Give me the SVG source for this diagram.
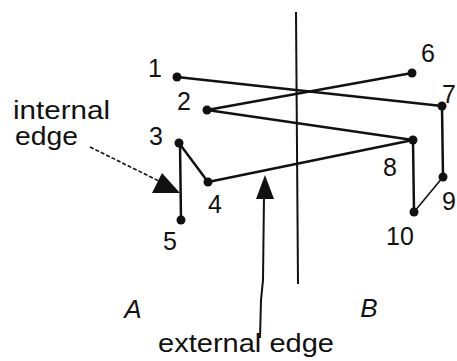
<svg xmlns="http://www.w3.org/2000/svg" width="457" height="361" viewBox="0 0 457 361">
<style>
.edge{stroke:#111;stroke-width:2.5;fill:none;stroke-linecap:round}
.thin{stroke:#111;stroke-width:1.6;fill:none}
.dot{fill:#111}
.num{font-family:"Liberation Sans",Arial,sans-serif;font-size:25px;fill:#111;text-anchor:middle}
.lbl{font-family:"Liberation Sans",Arial,sans-serif;font-size:25px;fill:#111}
.part{font-family:"Liberation Sans",Arial,sans-serif;font-size:26px;font-style:italic;fill:#111;text-anchor:middle}
</style>
<rect width="457" height="361" fill="#fff"/>
<line x1="296" y1="12" x2="298" y2="284" stroke="#111" stroke-width="2"/>
<g id="connectors">
<line class="edge" x1="177" y1="77" x2="442" y2="106"/>
<line class="edge" x1="412" y1="73" x2="207" y2="110"/>
<line class="edge" x1="207" y1="110" x2="413" y2="140"/>
<line class="edge" x1="208" y1="182" x2="413" y2="140"/>
<line class="edge" x1="179" y1="143" x2="208" y2="182"/>
<line class="edge" x1="180" y1="143" x2="181" y2="220"/>
<line class="edge" x1="442" y1="106" x2="443" y2="177"/>
<line class="edge" x1="413" y1="140" x2="414" y2="212"/>
<line class="thin" x1="443" y1="177" x2="414" y2="212"/>
</g>
<g id="node1"><circle class="dot" cx="177" cy="77" r="4.5"/><text class="num" x="155" y="77">1</text></g>
<g id="node2"><circle class="dot" cx="207" cy="110" r="4.5"/><text class="num" x="184" y="110">2</text></g>
<g id="node3"><circle class="dot" cx="179" cy="143" r="4.5"/><text class="num" x="156" y="145">3</text></g>
<g id="node4"><circle class="dot" cx="208" cy="182" r="4.5"/><text class="num" x="215" y="213">4</text></g>
<g id="node5"><circle class="dot" cx="181" cy="220" r="4.5"/><text class="num" x="170" y="250">5</text></g>
<g id="node6"><circle class="dot" cx="412" cy="73" r="4.5"/><text class="num" x="428" y="62">6</text></g>
<g id="node7"><circle class="dot" cx="442" cy="106" r="4.5"/><text class="num" x="449" y="103">7</text></g>
<g id="node8"><circle class="dot" cx="413" cy="140" r="4.5"/><text class="num" x="390" y="176">8</text></g>
<g id="node9"><circle class="dot" cx="443" cy="177" r="4.5"/><text class="num" x="449" y="210">9</text></g>
<g id="node10"><circle class="dot" cx="414" cy="212" r="4.5"/><text class="num" x="400" y="245">10</text></g>
<g id="internal-label">
<text class="lbl" x="13" y="119" textLength="97" lengthAdjust="spacingAndGlyphs">internal</text>
<text class="lbl" x="15" y="145" textLength="63" lengthAdjust="spacingAndGlyphs">edge</text>
<line x1="90" y1="147" x2="163" y2="183" stroke="#111" stroke-width="1.6" stroke-dasharray="4 2"/>
<polygon points="162,173 152,193 180,193" fill="#111"/>
</g>
<g id="external-label">
<text class="lbl" x="158" y="352" textLength="176" lengthAdjust="spacingAndGlyphs">external edge</text>
<polyline points="260,338 261,300 263,280 264,196" stroke="#111" stroke-width="2" fill="none"/>
<polygon points="265,175 256,199 274,199" fill="#111"/>
</g>
<text class="part" x="133" y="318">A</text>
<text class="part" x="369" y="317">B</text>
</svg>
